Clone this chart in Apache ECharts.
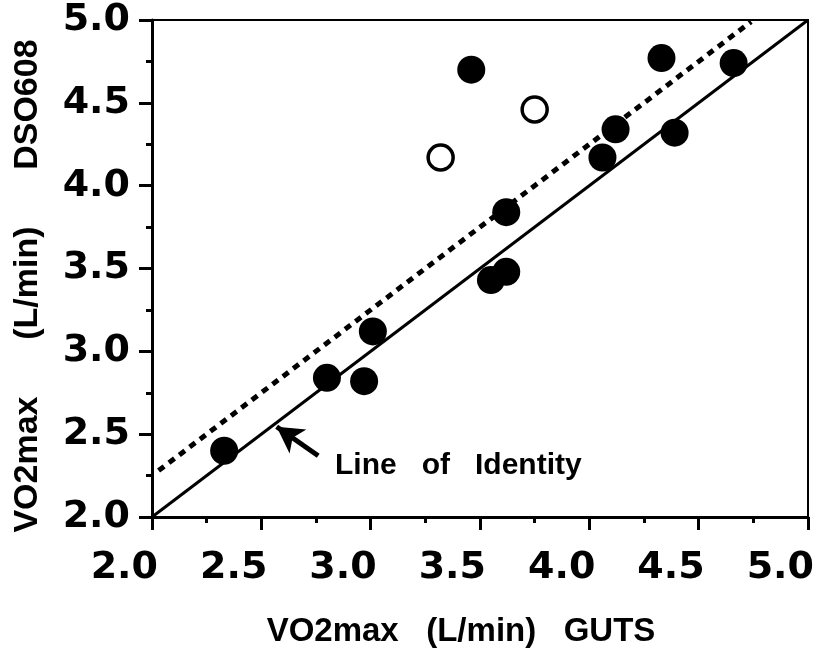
<!DOCTYPE html>
<html><head><meta charset="utf-8">
<script src="https://cdn.jsdelivr.net/npm/echarts@6/dist/echarts.min.js"></script>
<style>html,body{margin:0;padding:0;background:#fff}#c{width:822px;height:660px}</style>
</head><body><div id="c"></div>
<script>
// Axis ticks
const axisMin = 2.0;
const axisMax = 5.0;
const axisStep = 0.5;
// Filled circles: VO2max GUTS (x) vs DSO608 (y)
const filledX = [2.33, 2.80, 2.97, 3.01, 3.46, 3.55, 3.62, 3.62, 4.06, 4.12, 4.33, 4.39, 4.66];
const filledY = [2.40, 2.84, 2.82, 3.12, 4.70, 3.43, 3.48, 3.84, 4.17, 4.34, 4.77, 4.32, 4.74];
// Open circles
const openX = [3.32, 3.75];
const openY = [4.17, 4.46];
// Line of identity and regression (dotted) endpoints
const identityX = [2.0, 5.0];
const identityY = [2.0, 5.0];
const regX = [2.03, 4.74];
const regY = [2.28, 4.99];
// Arrow annotation (tail -> tip)
const arrowX = [2.76, 2.57];
const arrowY = [2.37, 2.545];
const xTitle = 'VO2max   (L/min)   GUTS';
const yTitle = 'VO2max      (L/min)      DSO608';
const noteText = 'Line   of   Identity';

const zip = (a, b) => a.map((v, i) => [v, b[i]]);
const tickFont = {fontFamily: 'DejaVu Sans', fontWeight: 'bold', fontSize: 38, color: '#000'};
const titleFont = 'bold 33px "Liberation Sans", Arial, sans-serif';
const yTitleFont = 'bold 34px "Liberation Sans", Arial, sans-serif';

const chart = echarts.init(document.getElementById('c'), null, {renderer: 'canvas'});
const axisCommon = {
  type: 'value', min: axisMin, max: axisMax, interval: axisStep,
  axisLine: {show: true, lineStyle: {color: '#000', width: 3}},
  axisTick: {show: true, inside: false, length: 13, lineStyle: {color: '#000', width: 3}},
  minorTick: {show: true, splitNumber: 2, length: 6, lineStyle: {color: '#000', width: 3}},
  splitLine: {show: false},
  axisLabel: Object.assign({formatter: v => v.toFixed(1)}, tickFont)
};
chart.setOption({
  animation: false,
  backgroundColor: '#fff',
  grid: {left: 152, right: 14, top: 20, bottom: 143, show: true, borderColor: '#000', borderWidth: 2, backgroundColor: 'transparent'},
  xAxis: Object.assign({}, axisCommon, {
    axisLabel: Object.assign({}, axisCommon.axisLabel, {align: 'right', margin: 32, padding: [0, -6, 0, 0]})
  }),
  yAxis: Object.assign({}, axisCommon, {
    axisLabel: Object.assign({}, axisCommon.axisLabel, {margin: 22})
  }),
  series: [
    {
      type: 'line', data: zip(identityX, identityY), symbol: 'none', silent: true,
      lineStyle: {color: '#000', width: 3}, z: 2,
      markLine: {
        silent: true, symbol: ['none', 'arrow'], symbolSize: [22, 26],
        lineStyle: {color: '#000', width: 5, type: 'solid'},
        label: {show: false},
        data: [[{coord: [arrowX[0], arrowY[0]]}, {coord: [arrowX[1], arrowY[1]]}]]
      }
    },
    {
      type: 'line', data: zip(regX, regY), symbol: 'none', silent: true,
      lineStyle: {color: '#000', width: 5, type: [7, 6]}, z: 2
    },
    {
      type: 'scatter', data: zip(filledX, filledY), symbol: 'circle', symbolSize: 28,
      itemStyle: {color: '#000', opacity: 1}, z: 3
    },
    {
      type: 'scatter', data: zip(openX, openY), symbol: 'circle', symbolSize: 25,
      itemStyle: {color: '#fff', borderColor: '#000', borderWidth: 3.5, opacity: 1}, z: 3
    }
  ],
  graphic: [
    {type: 'text', x: 461, y: 632, style: {text: xTitle, font: titleFont, fill: '#000', align: 'center', verticalAlign: 'middle'}},
    {type: 'text', x: 28, y: 286, rotation: Math.PI / 2, style: {text: yTitle, font: yTitleFont, fill: '#000', align: 'center', verticalAlign: 'middle'}},
    {type: 'text', x: 335, y: 466, style: {text: noteText, font: 'bold 30px "Liberation Sans", Arial, sans-serif', fill: '#000', align: 'left', verticalAlign: 'middle'}}
  ]
});
</script>
</body></html>
